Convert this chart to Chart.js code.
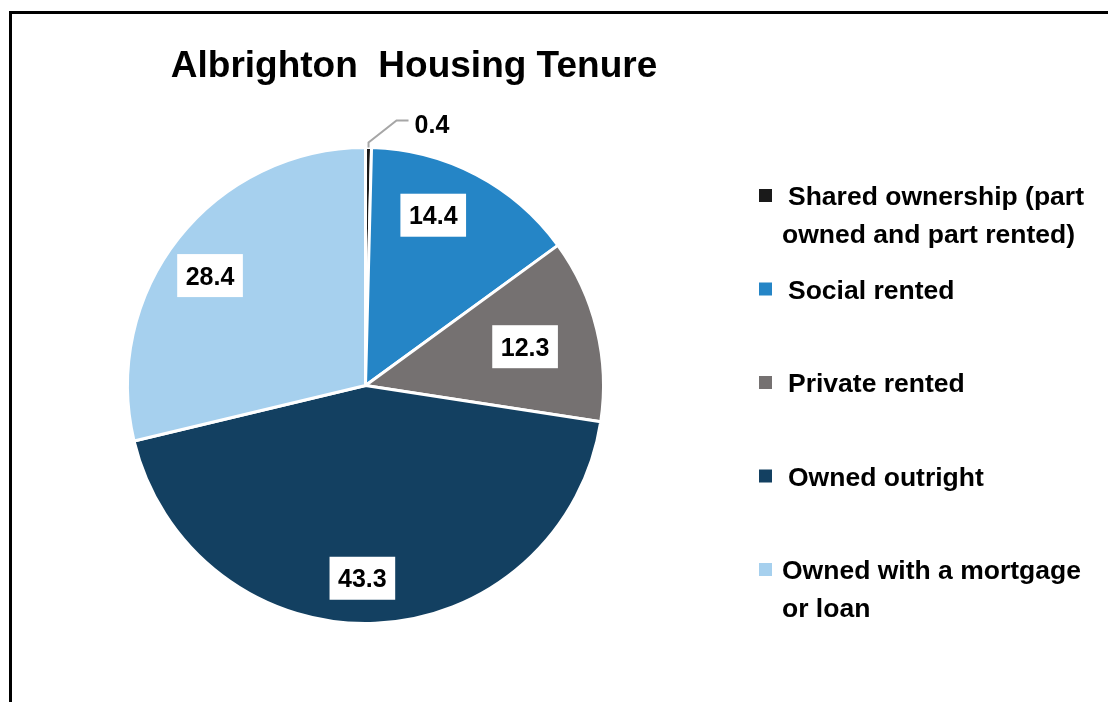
<!DOCTYPE html>
<html>
<head>
<meta charset="utf-8">
<title>Albrighton Housing Tenure</title>
<script src="https://cdn.jsdelivr.net/npm/chart.js@4"></script>
<style>
    body { margin: 0; background: #ffffff; overflow: hidden; }
    #frame {
        position: absolute; left: 9px; top: 11px;
        width: 1200px; height: 800px;
        border-left: 3px solid #000; border-top: 3px solid #000;
    }
    #pie-chart { position: absolute; left: 0; top: 0; }
</style>
</head>
<body>
<div id="frame"></div>
<canvas id="pie-chart" width="1108" height="702"></canvas>
<script>
// chart data (percent of households)
const tenureLabels = [
    'Shared ownership (part\nowned and part rented)',
    'Social rented',
    'Private rented',
    'Owned outright',
    'Owned with a mortgage\nor loan'
];
const tenureValues = [0.4, 14.4, 12.3, 43.3, 28.4];
const sliceColours = ['#1a1a1a', '#2585c6', '#757171', '#134061', '#a6d0ee'];

const FONT = '"Liberation Sans", Arial, sans-serif';

// draws title, value boxes, leader line and the legend on the canvas
const housingPlugin = {
    id: 'housing',
    afterDraw(chart, args, opts) {
        const ctx = chart.ctx;
        ctx.save();

        // title
        ctx.font = 'bold 37px ' + FONT;
        ctx.fillStyle = '#000';
        ctx.textAlign = 'center';
        ctx.textBaseline = 'alphabetic';
        ctx.fillText('Albrighton  Housing Tenure', 414, 77);

        // value labels
        const arcs = chart.getDatasetMeta(0).data;
        arcs.forEach((arc, i) => {
            const p = arc.getProps(['x', 'y', 'startAngle', 'endAngle', 'outerRadius'], true);
            const value = tenureValues[i].toFixed(1);
            const mid = (p.startAngle + p.endAngle) / 2;
            ctx.font = 'bold 25px ' + FONT;

            if (opts.small[i]) {
                // tiny slice: grey leader line out to the label
                const x0 = p.x + Math.cos(mid) * p.outerRadius;
                const y0 = p.y + Math.sin(mid) * p.outerRadius;
                ctx.strokeStyle = '#a6a6a6';
                ctx.lineWidth = 2;
                ctx.beginPath();
                ctx.moveTo(x0, y0);
                ctx.lineTo(x0, y0 - 5);
                ctx.lineTo(x0 + 28, y0 - 27);
                ctx.lineTo(x0 + 40, y0 - 27);
                ctx.stroke();
                ctx.fillStyle = '#000';
                ctx.textAlign = 'left';
                ctx.fillText(value, x0 + 46, y0 - 27 + 12);
                return;
            }

            const pos = opts.pos[i];
            const a = mid + pos.a * Math.PI / 180;
            const r = p.outerRadius * pos.r;
            const cx = p.x + Math.cos(a) * r;
            const cy = p.y + Math.sin(a) * r;
            const w = ctx.measureText(value).width + 17;
            const h = 43;
            ctx.fillStyle = '#fff';
            ctx.fillRect(cx - w / 2, cy - h / 2, w, h);
            ctx.fillStyle = '#000';
            ctx.textAlign = 'center';
            ctx.fillText(value, cx, cy + 9);
        });

        // legend
        ctx.font = 'bold 26.5px ' + FONT;
        ctx.textAlign = 'left';
        tenureLabels.forEach((label, i) => {
            const cy = 195.5 + i * 93.5;
            ctx.fillStyle = sliceColours[i];
            ctx.fillRect(759, cy - 6.5, 13, 13);
            ctx.fillStyle = '#000';
            label.split('\n').forEach((line, j) => {
                const x = (j === 0 ? 782 + opts.indent[i] : 782);
                ctx.fillText(line, x, cy + 9.5 + j * 37.5);
            });
        });

        ctx.restore();
    }
};

const pieChart = new Chart(document.getElementById('pie-chart'), {
    type: 'pie',
    data: {
        labels: tenureLabels,
        datasets: [{
            data: tenureValues,
            backgroundColor: sliceColours,
            borderColor: '#ffffff',
            borderWidth: 3
        }]
    },
    options: {
        responsive: false,
        animation: false,
        layout: {
            padding: { left: 126, right: 503, top: 146, bottom: 77 }
        },
        plugins: {
            legend: { display: false },
            tooltip: { enabled: false },
            housing: {
                small: [true, false, false, false, false],
                // label box placement: fraction of radius, angle nudge in degrees
                pos: [null, { r: 0.77, a: -6 }, { r: 0.69, a: 0 }, { r: 0.81, a: 3.3 }, { r: 0.80, a: -3 }],
                indent: [6, 6, 6, 6, 0]
            }
        }
    },
    plugins: [housingPlugin]
});
</script>
</body>
</html>
